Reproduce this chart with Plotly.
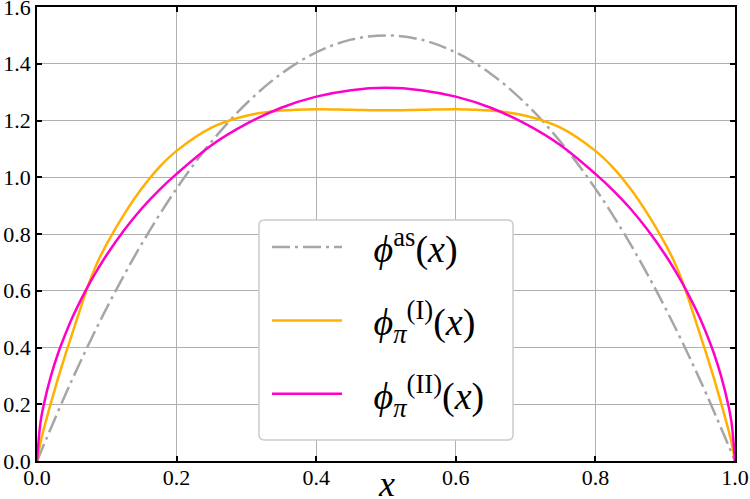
import plotly.graph_objects as go

# ---- data ----
x_as = [0.0, 0.05, 0.1, 0.15, 0.2, 0.25, 0.3, 0.35, 0.4, 0.45, 0.5,
        0.55, 0.6, 0.65, 0.7, 0.75, 0.8, 0.85, 0.9, 0.95, 1.0]
phi_as = [0.0, 0.285, 0.54, 0.765, 0.96, 1.125, 1.26, 1.365, 1.44, 1.485, 1.5,
          1.485, 1.44, 1.365, 1.26, 1.125, 0.96, 0.765, 0.54, 0.285, 0.0]

x_pi = [0.0, 0.005, 0.01, 0.02, 0.03, 0.04, 0.05, 0.0625, 0.075, 0.0875, 0.1, 0.125,
        0.15, 0.175, 0.2, 0.25, 0.3, 0.35, 0.4, 0.45, 0.5,
        0.55, 0.6, 0.65, 0.7, 0.75, 0.8, 0.825, 0.85, 0.875, 0.9, 0.9125, 0.925,
        0.9375, 0.95, 0.96, 0.97, 0.98, 0.99, 0.995, 1.0]
phi_I = [0.0, 0.065, 0.115, 0.205, 0.29, 0.37, 0.445, 0.54, 0.63, 0.705, 0.765, 0.87,
         0.96, 1.035, 1.093, 1.175, 1.217, 1.235, 1.24, 1.238, 1.236,
         1.238, 1.24, 1.235, 1.217, 1.175, 1.093, 1.035, 0.96, 0.87, 0.765, 0.705, 0.63,
         0.54, 0.445, 0.37, 0.29, 0.205, 0.115, 0.065, 0.0]
phi_II = [0.0, 0.136, 0.202, 0.300, 0.378, 0.443, 0.502, 0.566, 0.625, 0.678, 0.727, 0.814,
          0.890, 0.955, 1.012, 1.113, 1.188, 1.245, 1.284, 1.307, 1.315,
          1.307, 1.284, 1.245, 1.188, 1.113, 1.012, 0.955, 0.890, 0.814, 0.727, 0.678, 0.625,
          0.566, 0.502, 0.443, 0.378, 0.300, 0.202, 0.136, 0.0]

x_ticks = [0, 0.2, 0.4, 0.6, 0.8, 1.0]
x_ticktext = ["0.0", "0.2", "0.4", "0.6", "0.8", "1.0"]
y_ticks = [0, 0.2, 0.4, 0.6, 0.8, 1.0, 1.2, 1.4, 1.6]
y_ticktext = ["0.0", "0.2", "0.4", "0.6", "0.8", "1.0", "1.2", "1.4", "1.6"]

GAP = "\u2002\u2009"
names = [GAP + "<i>ϕ</i><sup>as</sup>(<i>x</i>)",
         GAP + "<i>ϕ</i><sub><i>π</i></sub><sup>(I)</sup>(<i>x</i>)",
         GAP + "<i>ϕ</i><sub><i>π</i></sub><sup>(II)</sup>(<i>x</i>)"]

FONT = "Liberation Serif"

fig = go.Figure()
fig.add_trace(go.Scatter(x=x_as, y=phi_as, mode="lines", name=names[0], legendgroup="a",
                         line=dict(color="#a6a6a6", width=2.5, dash="18px,5px,3px,5px",
                                   shape="spline")))
fig.add_trace(go.Scatter(x=x_pi, y=phi_I, mode="lines", name=names[1], legendgroup="b",
                         line=dict(color="#ffb000", width=2.5, shape="spline")))
fig.add_trace(go.Scatter(x=x_pi, y=phi_II, mode="lines", name=names[2], legendgroup="c",
                         line=dict(color="#ff00c8", width=2.5, shape="spline")))

axis_common = dict(showline=True, linecolor="black", linewidth=1.5, mirror="ticks",
                   ticks="inside", ticklen=5, tickwidth=1.5, tickcolor="black",
                   showgrid=True, gridcolor="#b0b0b0", gridwidth=1, zeroline=False,
                   ticklabeloverflow="allow", automargin=False,
                   tickfont=dict(family=FONT, size=22, color="black"))

# rounded legend frame (paper coordinates)
L, R, B, T = 0.318, 0.682, 0.0463, 0.5308
rx, ry = 0.008, 0.012
frame = (f"M{L+rx},{B} L{R-rx},{B} Q{R},{B} {R},{B+ry} L{R},{T-ry} Q{R},{T} {R-rx},{T} "
         f"L{L+rx},{T} Q{L},{T} {L},{T-ry} L{L},{B+ry} Q{L},{B} {L+rx},{B} Z")

fig.update_layout(
    width=750, height=499,
    margin=dict(l=37, r=15, t=7, b=38),
    plot_bgcolor="white", paper_bgcolor="white",
    xaxis=dict(range=[0, 1], tickvals=x_ticks, ticktext=x_ticktext,
               ticklabelstandoff=-4,
               **axis_common),
    yaxis=dict(range=[0, 1.6], tickvals=y_ticks, ticktext=y_ticktext,
               ticklabelstandoff=0,
               **axis_common),
    annotations=[dict(text="<i>x</i>", x=0.5, y=-0.05, xref="paper", yref="paper",
                      xanchor="center", yanchor="middle", showarrow=False,
                      font=dict(family=FONT, size=36, color="black"))],
    shapes=[dict(type="path", path=frame, xref="paper", yref="paper", layer="above",
                 fillcolor="white", line=dict(color="#cccccc", width=1.5))],
    legend=dict(x=0.3295, y=0.54, xanchor="left", yanchor="top",
                bgcolor="rgba(0,0,0,0)", borderwidth=0,
                font=dict(family=FONT, size=38, color="black"),
                traceorder="grouped", itemwidth=70, tracegroupgap=21),
    showlegend=True,
)

fig.write_html("out.html")
